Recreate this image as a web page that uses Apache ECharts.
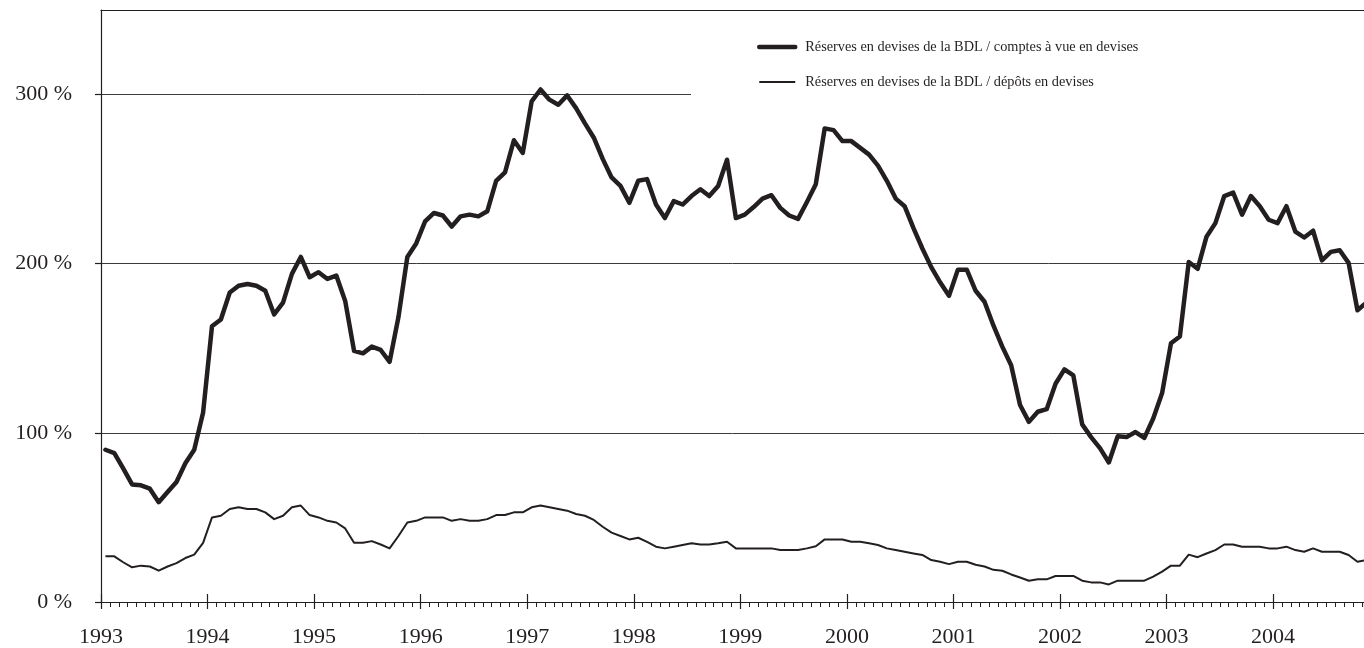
<!DOCTYPE html>
<html>
<head>
<meta charset="utf-8">
<script src="https://cdn.jsdelivr.net/npm/echarts@6/dist/echarts.min.js"></script>
<style>
  html, body { margin: 0; padding: 0; background: #fff; }
  #chart { width: 1364px; height: 648px; }
</style>
</head>
<body>
<div id="chart"></div>
<script>
// monthly series, Jan 1993 .. Nov 2004 (values in %)
const startYear = 1993;
const yearTicks = [1993, 1994, 1995, 1996, 1997, 1998, 1999, 2000, 2001, 2002, 2003, 2004];
const valueTicks = [0, 100, 200, 300];

const nameCurrent = 'Réserves en devises de la BDL / comptes à vue en devises';
const nameDeposits = 'Réserves en devises de la BDL / dépôts en devises';

const current = [
  90, 88, 79, 69.5, 69, 67, 59, 65, 71, 82, 90, 112,
  163, 167, 183, 187, 188, 187, 184, 170, 177, 194, 204, 192,
  195, 191, 193, 178, 148.5, 147, 151, 149, 142, 168.5, 204, 212,
  225, 230, 228.5, 222, 228, 229, 228, 231, 249, 254, 273, 265.5,
  296, 303, 297, 294, 299.5, 292, 283, 274.5, 262, 251, 246, 236,
  249, 250, 235, 227, 237, 235, 240, 244, 240, 246, 261.5, 227,
  229, 233.5, 238.5, 240.5, 233, 228.5, 226.5, 236.5, 247, 280, 279, 272.5,
  272.5, 268.5, 264.5, 258, 249, 238.5, 234, 221, 209, 198, 189, 181,
  196.5, 196.5, 184, 177.5, 163.5, 151, 140, 116.5, 106.5, 112.5, 114, 129,
  137.5, 134, 105, 97.5, 91, 82.5, 98, 97.5, 100.5, 97, 108.5, 123.5,
  153, 157, 201, 197, 216, 224, 240, 242, 229, 240, 234, 226,
  224, 234, 219, 215.5, 219.5, 202, 207, 208, 200.5, 172.5, 177
];

const deposits = [
  27, 27, 23.5, 20.5, 21.5, 21, 18.5, 21, 23, 26, 28, 35,
  50, 51, 55, 56, 55, 55, 53, 49, 51, 56, 57, 51.4,
  50, 48, 47, 43.5, 35, 35, 36, 34, 31.7, 39, 47, 48,
  50, 50, 50, 48, 49, 48, 48, 49, 51.4, 51.4, 53, 53,
  56, 57, 56, 55, 54, 52, 51, 48.5, 44.5, 41, 39, 37,
  38, 35.5, 32.7, 31.7, 32.7, 33.7, 34.7, 34, 34, 34.7, 35.6, 31.7,
  31.7, 31.7, 31.7, 31.7, 30.7, 30.7, 30.7, 31.7, 33, 37, 37, 37,
  35.6, 35.6, 34.7, 33.7, 31.7, 30.7, 29.7, 28.7, 27.8, 24.8, 23.8, 22.4,
  23.8, 23.8, 22, 21, 19, 18.5, 16.3, 14.5, 12.6, 13.4, 13.4, 15.4,
  15.4, 15.4, 12.6, 11.6, 11.6, 10.4, 12.6, 12.6, 12.6, 12.6, 15, 18,
  21.5, 21.5, 28, 26.5, 28.7, 30.7, 34, 34, 32.7, 32.7, 32.7, 31.7,
  31.7, 32.7, 30.7, 29.7, 31.7, 29.7, 29.7, 29.7, 27.8, 23.8, 24.8
];

// place each monthly value in the middle of its month
function toPoints(values) {
  return values.map((v, i) => [startYear + (i + 0.5) / 12, v]);
}

const ink = '#231f20';
const font = 'Liberation Serif';
const thick = 4.5;
const thin = 2;

const chart = echarts.init(document.getElementById('chart'), null, { renderer: 'canvas' });

// the printed chart is cut off at the right, a little before 2005
const baseX = {
  type: 'value',
  min: 1993,
  max: 2004.853,
  interval: 1,
  splitLine: { show: false }
};

chart.setOption({
  animation: false,
  backgroundColor: '#fff',
  textStyle: { fontFamily: font, color: ink },
  grid: {
    left: 101,
    right: 0,
    top: 10,
    bottom: 46
  },
  legend: {
    orient: 'vertical',
    left: 691,
    top: 20,
    padding: [20, 240, 10, 66],
    backgroundColor: '#fff',
    itemWidth: 36,
    itemHeight: 14,
    itemGap: 21,
    itemStyle: { opacity: 0 },
    textStyle: { fontFamily: font, fontSize: 14.3, color: ink, padding: [0, 0, 0, 5] },
    data: [
      { name: nameCurrent, lineStyle: { width: thick, color: ink, cap: 'round' } },
      { name: nameDeposits, lineStyle: { width: thin, color: ink } }
    ]
  },
  xAxis: [
    {
      ...baseX,
      position: 'bottom',
      axisLine: { show: true, lineStyle: { color: ink, width: 1.2 } },
      axisTick: { show: true, inside: false, length: 7, lineStyle: { color: ink, width: 1.2 } },
      minorTick: { show: true, splitNumber: 12, length: 5, lineStyle: { color: ink, width: 1 } },
      axisLabel: {
        margin: 24,
        fontFamily: font,
        fontSize: 22,
        color: ink,
        customValues: yearTicks,
        formatter: (v) => String(Math.round(v))
      }
    },
    {
      ...baseX,
      position: 'bottom',
      axisLine: { show: false },
      axisTick: { show: true, inside: true, length: 8, customValues: yearTicks, lineStyle: { color: ink, width: 1.2 } },
      axisLabel: { show: false }
    },
    {
      // top frame line
      ...baseX,
      position: 'top',
      axisLine: { show: true, lineStyle: { color: ink, width: 1.2 } },
      axisTick: { show: false },
      axisLabel: { show: false }
    }
  ],
  yAxis: {
    type: 'value',
    min: 0,
    max: 350,
    interval: 100,
    axisLine: { show: true, lineStyle: { color: ink, width: 1.2 } },
    axisTick: { show: true, length: 6, customValues: valueTicks, lineStyle: { color: ink, width: 1.2 } },
    axisLabel: {
      margin: 29,
      fontFamily: font,
      fontSize: 22,
      color: ink,
      customValues: valueTicks,
      formatter: (v) => v + ' %'
    },
    splitLine: { show: true, lineStyle: { color: '#3a3a3a', width: 1 } }
  },
  series: [
    {
      name: nameCurrent,
      type: 'line',
      symbol: 'none',
      data: toPoints(current),
      color: ink,
      lineStyle: { color: ink, width: thick, cap: 'round', join: 'round' },
      z: 3
    },
    {
      name: nameDeposits,
      type: 'line',
      symbol: 'none',
      data: toPoints(deposits),
      color: ink,
      lineStyle: { color: ink, width: thin, join: 'round' },
      z: 3
    }
  ]
});
</script>
</body>
</html>
